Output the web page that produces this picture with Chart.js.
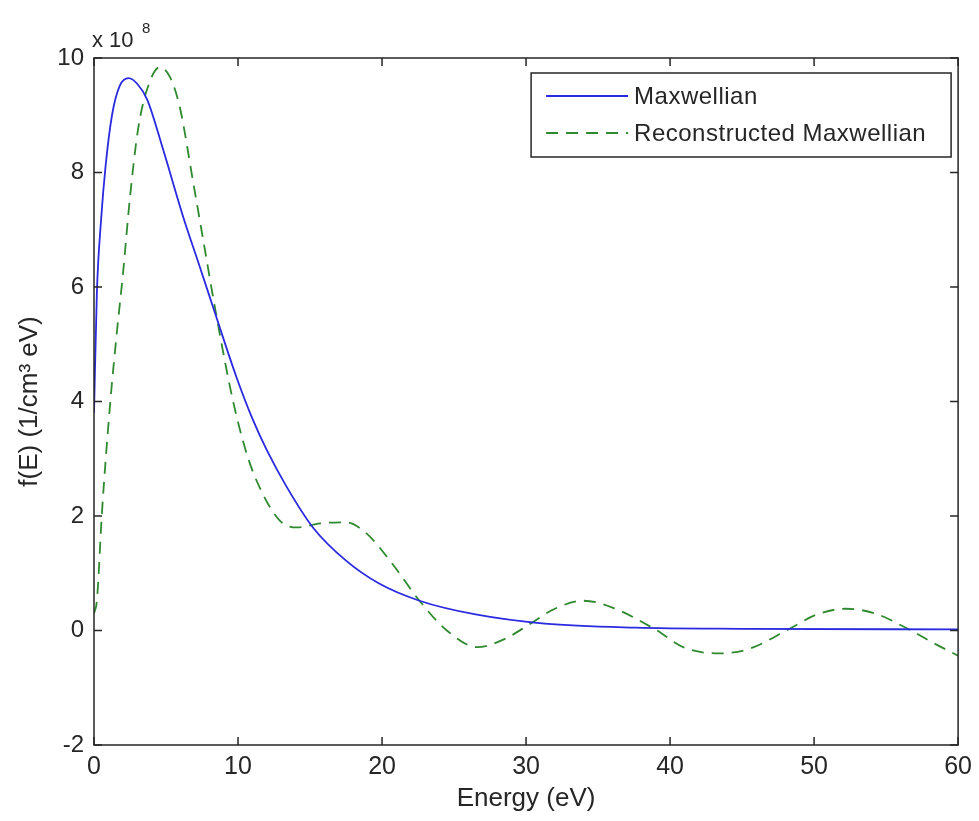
<!DOCTYPE html>
<html>
<head>
<meta charset="utf-8">
<script src="https://cdn.jsdelivr.net/npm/chart.js@4/dist/chart.umd.min.js"></script>
<style>
  html, body { margin: 0; padding: 0; background: #fff; }
  #wrap { width: 979px; height: 821px; }
</style>
</head>
<body>
<div id="wrap"><canvas id="main-chart" width="979" height="821"></canvas></div>
<script>
// --- Data (values in units of 1e8) ---
const maxwellE = [0, 0.2, 0.5, 0.8, 1.25, 1.8, 2.4, 3, 3.7, 4.8, 6.2, 7.35, 8.5, 9.9, 11, 12, 13.4, 15.2, 17.5, 19.8, 22.6, 26.5, 31.3, 37.6, 45, 60];
const maxwellF = [3.8, 5.9, 7.2, 8.1, 9.0, 9.52, 9.65, 9.55, 9.27, 8.4, 7.22, 6.35, 5.47, 4.42, 3.7, 3.15, 2.5, 1.8, 1.22, 0.82, 0.52, 0.28, 0.12, 0.05, 0.03, 0.02];

const reconE = [0, 0.2, 0.55, 1.1, 1.6, 2, 2.5, 3.05, 3.67, 4.57, 5.27, 5.96, 6.86, 7.55, 8.5, 9.6, 10.6, 11.5, 12.9, 14.1, 15.7, 17.5, 18.9, 20.7, 22.6, 24.5, 26.6, 28.5, 30.3, 32, 34, 36, 38.9, 41, 43.4, 45.5, 48.3, 50.2, 52.2, 54.2, 56.5, 58.3, 60];
const reconF = [0.3, 0.52, 2.05, 3.9, 5.24, 6.2, 7.57, 8.74, 9.44, 9.84, 9.67, 9.14, 7.87, 6.87, 5.5, 4.07, 3.09, 2.5, 1.92, 1.8, 1.87, 1.89, 1.7, 1.17, 0.52, 0, -0.29, -0.15, 0.12, 0.38, 0.52, 0.4, 0.03, -0.3, -0.4, -0.32, 0.03, 0.28, 0.38, 0.3, 0.03, -0.22, -0.44];

const seriesLabels = ["Maxwellian", "Reconstructed Maxwellian"];
const xTicks = [0, 10, 20, 30, 40, 50, 60];
const yTicks = [-2, 0, 2, 4, 6, 8, 10];

const toPoints = (xs, ys) => xs.map((x, i) => ({ x: x, y: ys[i] }));

const FONT = "'Liberation Sans', Arial, sans-serif";
const TICK_FONT = "'Liberation Sans Narrow', 'Liberation Sans', Arial, sans-serif";
const INK = "#262626";
const BLUE = "#2a2ae0";
const GREEN = "#2f8a2f";

// --- Plugin: MATLAB style box, inward ticks, exponent and legend ---
const matlabFrame = {
  id: "matlabFrame",
  afterDraw(chart) {
    const { ctx, chartArea: a, scales } = chart;
    const tick = 8;
    ctx.save();
    ctx.strokeStyle = INK;
    ctx.lineWidth = 1.5;
    ctx.strokeRect(a.left, a.top, a.right - a.left, a.bottom - a.top);

    ctx.beginPath();
    xTicks.forEach((v) => {
      const px = scales.x.getPixelForValue(v);
      ctx.moveTo(px, a.bottom); ctx.lineTo(px, a.bottom - tick);
      ctx.moveTo(px, a.top); ctx.lineTo(px, a.top + tick);
    });
    yTicks.forEach((v) => {
      const py = scales.y.getPixelForValue(v);
      ctx.moveTo(a.left, py); ctx.lineTo(a.left + tick, py);
      ctx.moveTo(a.right, py); ctx.lineTo(a.right - tick, py);
    });
    ctx.stroke();

    // exponent label
    ctx.fillStyle = INK;
    ctx.textBaseline = "alphabetic";
    ctx.textAlign = "left";
    ctx.font = "22px " + FONT;
    ctx.fillText("x 10", a.left - 2, a.top - 11);
    ctx.font = "15px " + FONT;
    ctx.fillText("8", a.left + 48, a.top - 25);

    // legend
    const lx = a.right - 427, ly = a.top + 15, lw = 420, lh = 84;
    ctx.fillStyle = "#fff";
    ctx.fillRect(lx, ly, lw, lh);
    ctx.strokeStyle = INK;
    ctx.lineWidth = 1.5;
    ctx.strokeRect(lx, ly, lw, lh);
    const rows = [
      { label: seriesLabels[0], color: BLUE, dash: [] },
      { label: seriesLabels[1], color: GREEN, dash: [12, 8] },
    ];
    ctx.font = "24px " + FONT;
    ctx.letterSpacing = "0.5px";
    ctx.textBaseline = "middle";
    rows.forEach((r, i) => {
      const y = ly + 23 + i * 37;
      ctx.beginPath();
      ctx.setLineDash(r.dash);
      ctx.strokeStyle = r.color;
      ctx.lineWidth = 1.8;
      ctx.moveTo(lx + 15, y);
      ctx.lineTo(lx + 97, y);
      ctx.stroke();
      ctx.setLineDash([]);
      ctx.fillStyle = INK;
      ctx.fillText(r.label, lx + 103, y + 1);
    });
    ctx.restore();
  },
};

document.addEventListener("DOMContentLoaded", () => {
  const canvas = document.getElementById("main-chart");

  new Chart(canvas.getContext("2d"), {
    type: "line",
    data: {
      datasets: [
        {
          label: seriesLabels[0],
          data: toPoints(maxwellE, maxwellF),
          borderColor: BLUE,
          borderWidth: 1.8,
          pointRadius: 0,
          cubicInterpolationMode: "monotone",
          fill: false,
        },
        {
          label: seriesLabels[1],
          data: toPoints(reconE, reconF),
          borderColor: GREEN,
          borderWidth: 1.8,
          borderDash: [12, 8],
          pointRadius: 0,
          cubicInterpolationMode: "monotone",
          fill: false,
        },
      ],
    },
    options: {
      responsive: false,
      animation: false,
      events: [],
      layout: { padding: { left: 0, top: 58, right: 19, bottom: 0 } },
      plugins: {
        legend: { display: false },
        tooltip: { enabled: false },
      },
      scales: {
        x: {
          type: "linear",
          min: 0,
          max: 60,
          afterFit: (s) => { s.height = 76; },
          afterBuildTicks: (s) => { s.ticks = xTicks.map((v) => ({ value: v })); },
          grid: { display: false, drawTicks: false },
          border: { display: false },
          ticks: {
            autoSkip: false,
            maxRotation: 0,
            padding: 7,
            color: INK,
            font: { family: TICK_FONT, size: 25 },
          },
          title: {
            display: true,
            text: "Energy (eV)",
            color: INK,
            font: { family: FONT, size: 26 },
            padding: { top: 0, bottom: 7 },
          },
        },
        y: {
          type: "linear",
          min: -2,
          max: 10,
          afterFit: (s) => { s.width = 94; },
          afterBuildTicks: (s) => { s.ticks = yTicks.map((v) => ({ value: v })); },
          grid: { display: false, drawTicks: false },
          border: { display: false },
          ticks: {
            padding: 10,
            color: INK,
            font: { family: TICK_FONT, size: 24 },
          },
          title: {
            display: true,
            text: "f(E) (1/cm\u00B3 eV)",
            color: INK,
            font: { family: FONT, size: 26 },
            padding: { top: 14, bottom: 0 },
          },
        },
      },
    },
    plugins: [matlabFrame],
  });
});
</script>
</body>
</html>
